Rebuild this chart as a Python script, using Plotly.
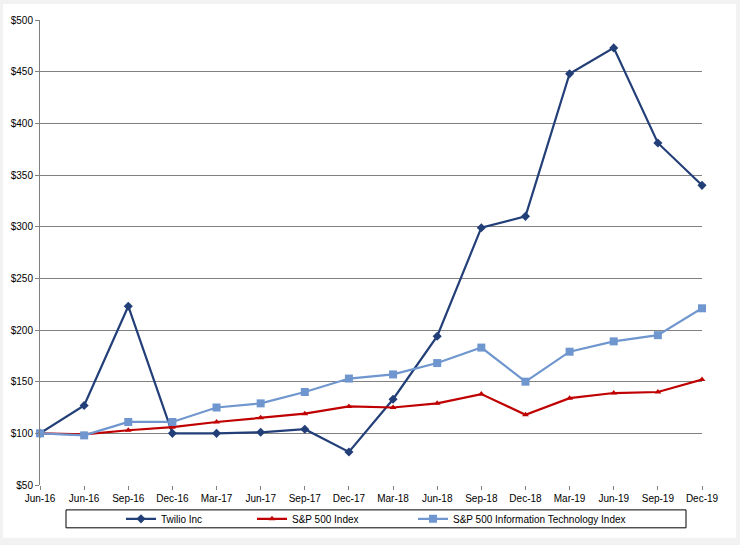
import plotly.graph_objects as go

categories = ["Jun-16", "Jun-16", "Sep-16", "Dec-16", "Mar-17", "Jun-17", "Sep-17", "Dec-17",
              "Mar-18", "Jun-18", "Sep-18", "Dec-18", "Mar-19", "Jun-19", "Sep-19", "Dec-19"]
twilio = [100, 127, 223, 100, 100, 101, 104, 82, 133, 194, 299, 310, 448, 473, 381, 340]
sp500 = [100, 99, 103, 106, 111, 115, 119, 126, 125, 129, 138, 118, 134, 139, 140, 152]
sp500_it = [100, 98, 111, 111, 125, 129, 140, 153, 157, 168, 183, 150, 179, 189, 195, 221]
y_ticks = [50, 100, 150, 200, 250, 300, 350, 400, 450, 500]
y_tick_labels = ["$" + str(v) for v in y_ticks]

W, H = 740, 545
L, R, T, B = 40, 38, 20, 58
pw, ph = W - L - R, H - T - B

def px_x(p):
    return (p - L) / pw

def px_y(p):
    return (H - B - p) / ph

xs = list(range(len(categories)))

fig = go.Figure()
fig.add_trace(go.Scatter(
    x=xs, y=twilio, name="Twilio Inc", mode="lines+markers",
    line=dict(color="#233F78", width=2.2),
    marker=dict(symbol="diamond", size=7, color="#233F78"),
    cliponaxis=False, legend="legend"))
fig.add_trace(go.Scatter(
    x=xs, y=sp500, name="S&P 500 Index", mode="lines+markers",
    line=dict(color="#C00000", width=2.2),
    marker=dict(symbol="triangle-up", size=6, color="#C00000"),
    cliponaxis=False, legend="legend2"))
fig.add_trace(go.Scatter(
    x=xs, y=sp500_it, name="S&P 500 Information Technology Index", mode="lines+markers",
    line=dict(color="#6F96CE", width=2.2),
    marker=dict(symbol="square", size=8, color="#6F96CE"),
    cliponaxis=False, legend="legend3"))

font = dict(family="Liberation Sans, Arial, sans-serif", size=10, color="#000000")
leg_common = dict(orientation="h", yanchor="middle", xanchor="left", bgcolor="rgba(0,0,0,0)",
                  borderwidth=0, font=font, itemwidth=30)
ly = px_y(521)

fig.update_layout(
    width=W, height=H,
    margin=dict(l=L, r=R, t=T, b=B, pad=0),
    paper_bgcolor="#F2F2F2",
    plot_bgcolor="rgba(0,0,0,0)",
    font=font,
    showlegend=True,
    legend=dict(x=px_x(121), y=ly, **leg_common),
    legend2=dict(x=px_x(252), y=ly, **leg_common),
    legend3=dict(x=px_x(413), y=ly, **leg_common),
    xaxis=dict(
        range=[0, len(categories) - 1], tickmode="array", tickvals=xs, ticktext=categories,
        showgrid=False, zeroline=False, showline=False,
        ticks="outside", ticklen=4, tickcolor="#808080", tickfont=font,
    ),
    yaxis=dict(
        range=[50, 500], tickmode="array", tickvals=y_ticks, ticktext=y_tick_labels,
        showgrid=True, gridcolor="#808080", gridwidth=1, zeroline=False,
        showline=True, linecolor="#808080", linewidth=1,
        ticks="outside", ticklen=4, tickcolor="#808080", tickfont=font,
    ),
    shapes=[
        dict(type="rect", xref="paper", yref="paper", layer="below",
             x0=px_x(3), x1=px_x(736), y0=px_y(540), y1=px_y(4),
             fillcolor="#FFFFFF", line=dict(width=0)),
        dict(type="rect", xref="paper", yref="paper", layer="above",
             x0=px_x(66), x1=px_x(686), y0=px_y(530), y1=px_y(512),
             fillcolor="rgba(0,0,0,0)", line=dict(color="#000000", width=1)),
    ],
)

fig.write_html("out.html",
               config={"displayModeBar": False},
               post_script="document.body.style.margin='0';document.body.style.overflow='hidden';")
